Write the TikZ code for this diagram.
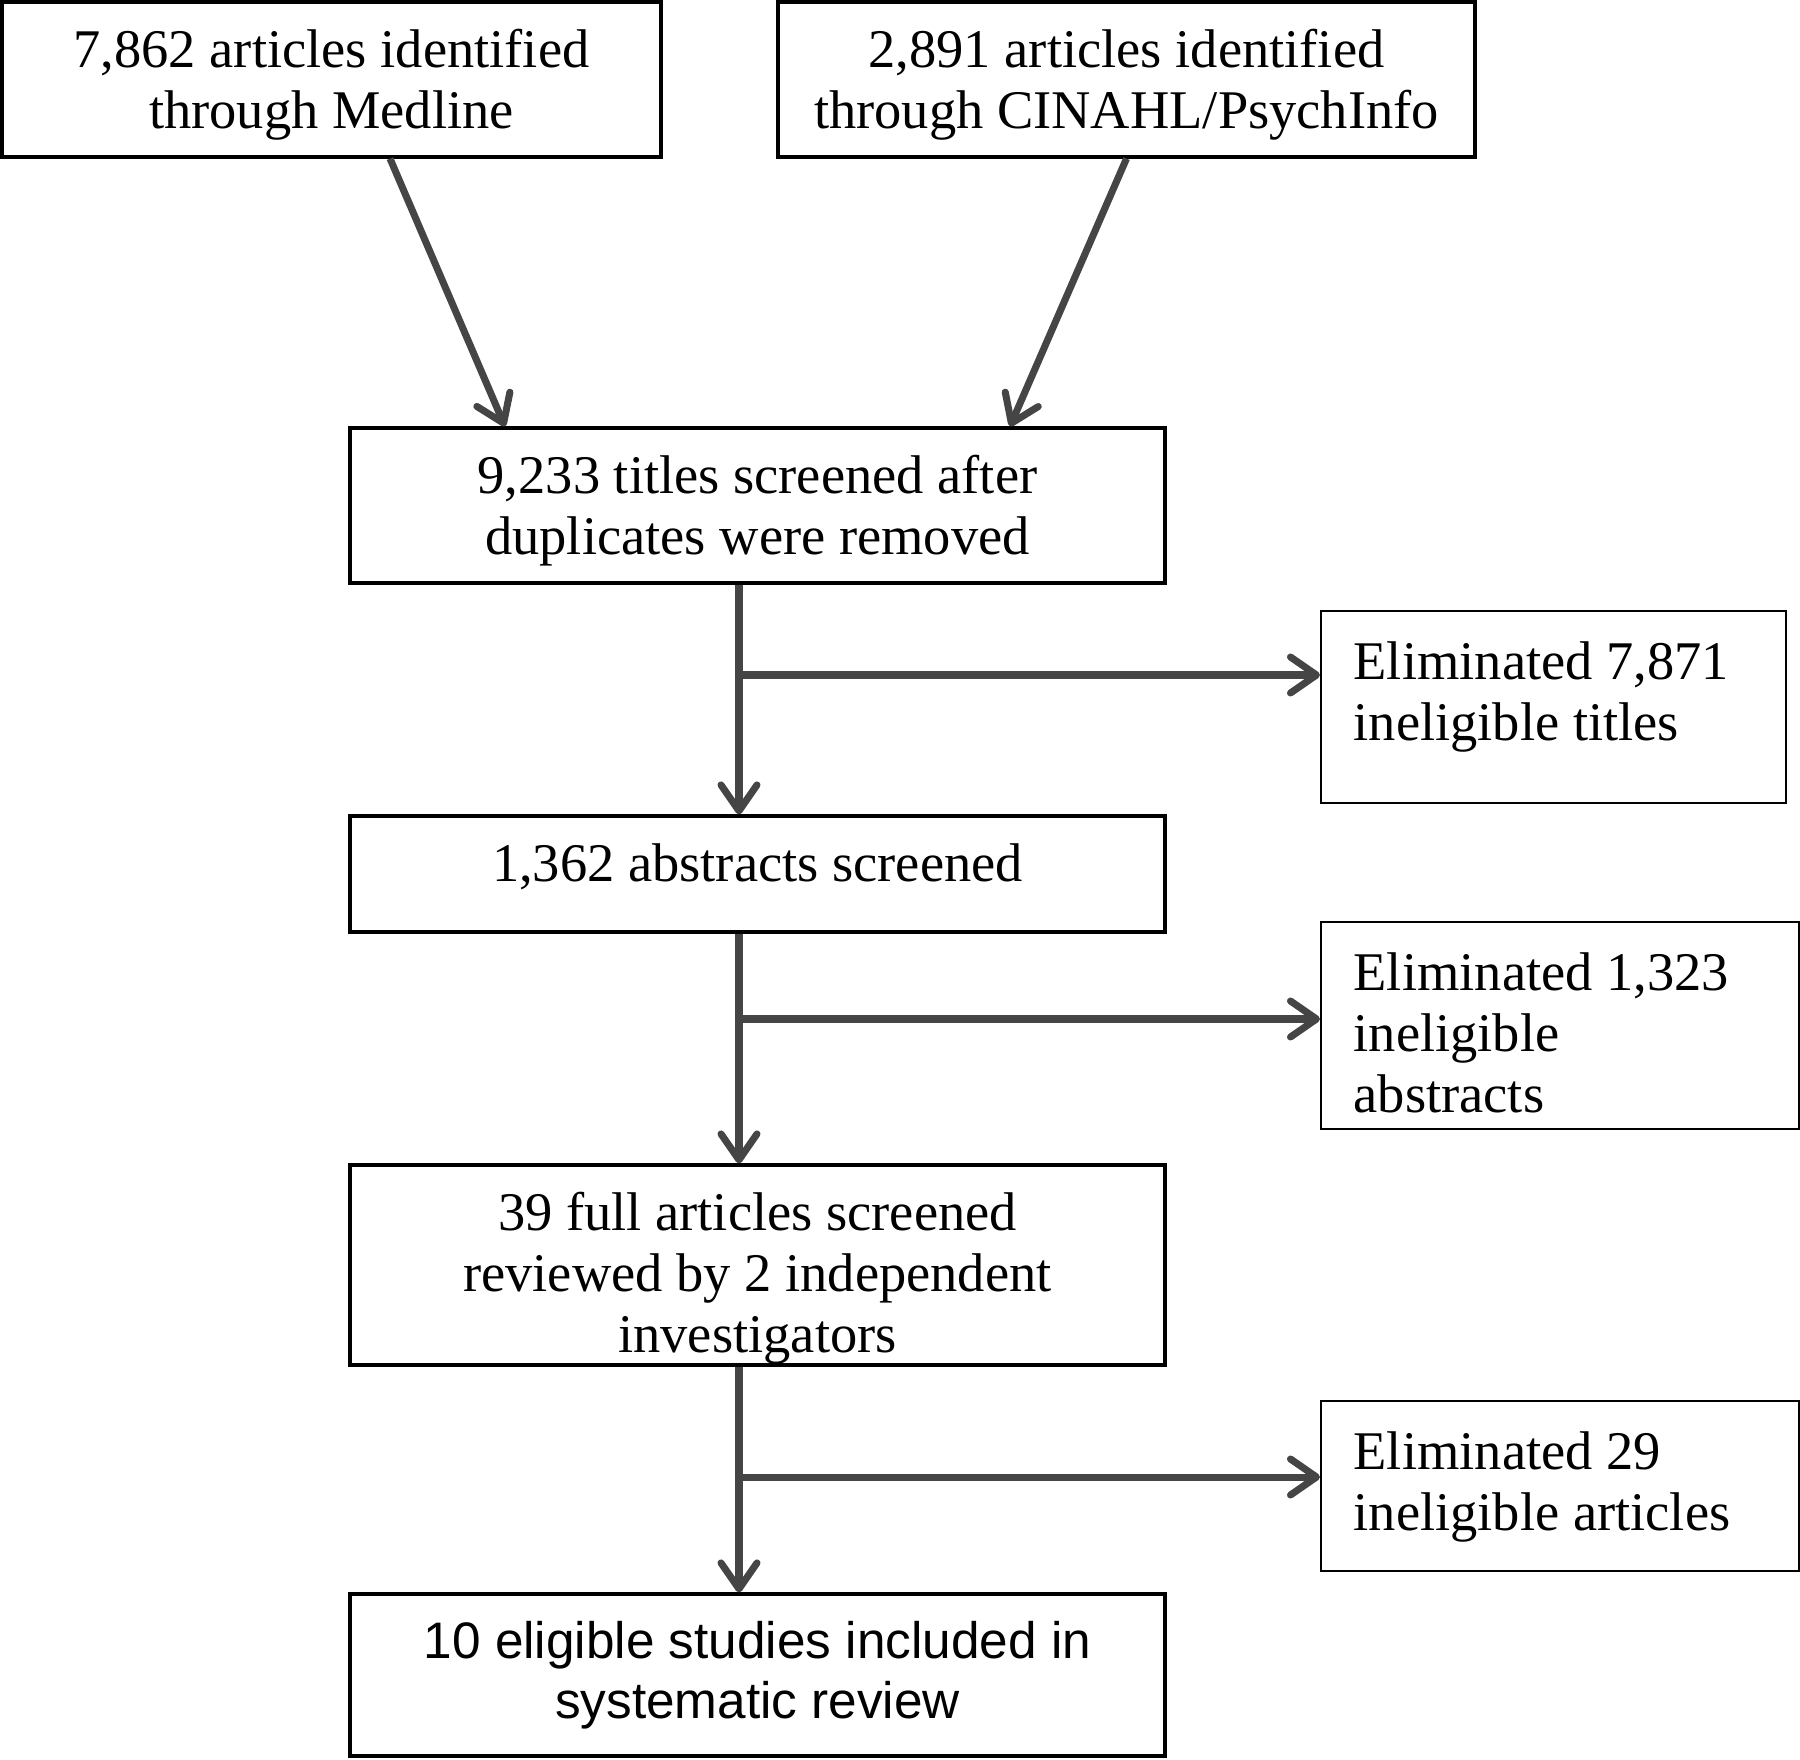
\documentclass[tikz,border=0pt]{standalone}
\usepackage{fontspec}
\setmainfont{Liberation Serif}
\newfontfamily\arialfont{Liberation Sans}
\usetikzlibrary{arrows.meta,positioning}

\definecolor{arrowgray}{HTML}{454545}

\tikzset{
  stepbox/.style={draw, line width=0.9pt, inner sep=0pt},
  steptext/.style={inner sep=0pt, align=center, font=\fontsize{15.5}{17.4}\selectfont},
  elimbox/.style={draw, line width=0.5pt, inner sep=0pt, anchor=north west},
  elimtext/.style={inner sep=0pt, align=left, font=\fontsize{15.5}{17.4}\selectfont},
  flow/.style={draw=arrowgray, line width=2pt,
    -{Straight Barb[length=2.6mm, width=3.6mm, line cap=round, line join=round]}}
}

\begin{document}
\begin{tikzpicture}
\useasboundingbox (0,0) rectangle (18,-17.6);

% sources
\node[stepbox, minimum width=6.59cm, minimum height=1.55cm] (medline) at (3.315,-0.795) {};
\node[stepbox, minimum width=6.97cm, minimum height=1.55cm] (cinahl) at (11.265,-0.795) {};
\node[steptext] (medlinetxt) at ([yshift=-0.55mm]medline.center)
  {7,862 articles identified\\through Medline};
\node[steptext] (cinahltxt) at ([yshift=-0.55mm]cinahl.center)
  {2,891 articles identified\\through CINAHL/PsychInfo};

% screening steps
\node[stepbox, minimum width=8.15cm, minimum height=1.55cm] (titles) at (7.575,-5.055) {};
\node[stepbox, minimum width=8.15cm, minimum height=1.16cm] (abstracts) at (7.575,-8.74) {};
\node[stepbox, minimum width=8.15cm, minimum height=2.0cm] (full) at (7.575,-12.65) {};
\node[stepbox, minimum width=8.15cm, minimum height=1.62cm] (included) at (7.575,-16.75) {};
\node[steptext] (titlestxt) at ([yshift=-0.5mm]titles.center)
  {9,233 titles screened after\\duplicates were removed};
\node[steptext] (abstractstxt) at ([yshift=0.7mm]abstracts.center)
  {1,362 abstracts screened};
\node[steptext] (fulltxt) at ([yshift=-1.3mm]full.center)
  {39 full articles screened\\reviewed by 2 independent\\investigators};
\node[steptext, font=\arialfont\fontsize{14.6}{17.2}\selectfont] (includedtxt)
  at (included.center) {10 eligible studies included in\\systematic review};

% eliminated
\node[elimbox, minimum width=4.65cm, minimum height=1.92cm] (elim1) at (13.2,-6.10) {};
\node[elimbox, minimum width=4.78cm, minimum height=2.07cm] (elim2) at (13.2,-9.21) {};
\node[elimbox, minimum width=4.78cm, minimum height=1.70cm] (elim3) at (13.2,-14.00) {};
\node[elimtext, below right=0.31cm and 0.33cm of elim1.north west] (txt1)
  {Eliminated 7,871\\ineligible titles};
\node[elimtext, below right=0.31cm and 0.33cm of elim2.north west] (txt2)
  {Eliminated 1,323\\ineligible\\abstracts};
\node[elimtext, below right=0.31cm and 0.33cm of elim3.north west] (txt3)
  {Eliminated 29\\ineligible articles};

% arrows
\draw[flow] ([xshift=0.585cm]medline.south) -- ([xshift=-2.525cm]titles.north);
\draw[flow] (cinahl.south) -- ([xshift=2.525cm]titles.north);

\foreach \a/\b in {titles/abstracts, abstracts/full, full/included}
  \draw[flow] ([xshift=-1.85mm]\a.south) -- ([xshift=-1.85mm]\b.north);

\coordinate (s1) at (7.39,-6.75);
\coordinate (s2) at (7.39,-10.19);
\coordinate (s3) at (7.39,-14.77);
\foreach \s/\e in {s1/elim1, s2/elim2, s3/elim3}
  \draw[flow] (\s) -- (\s -| \e.west);

\end{tikzpicture}
\end{document}
